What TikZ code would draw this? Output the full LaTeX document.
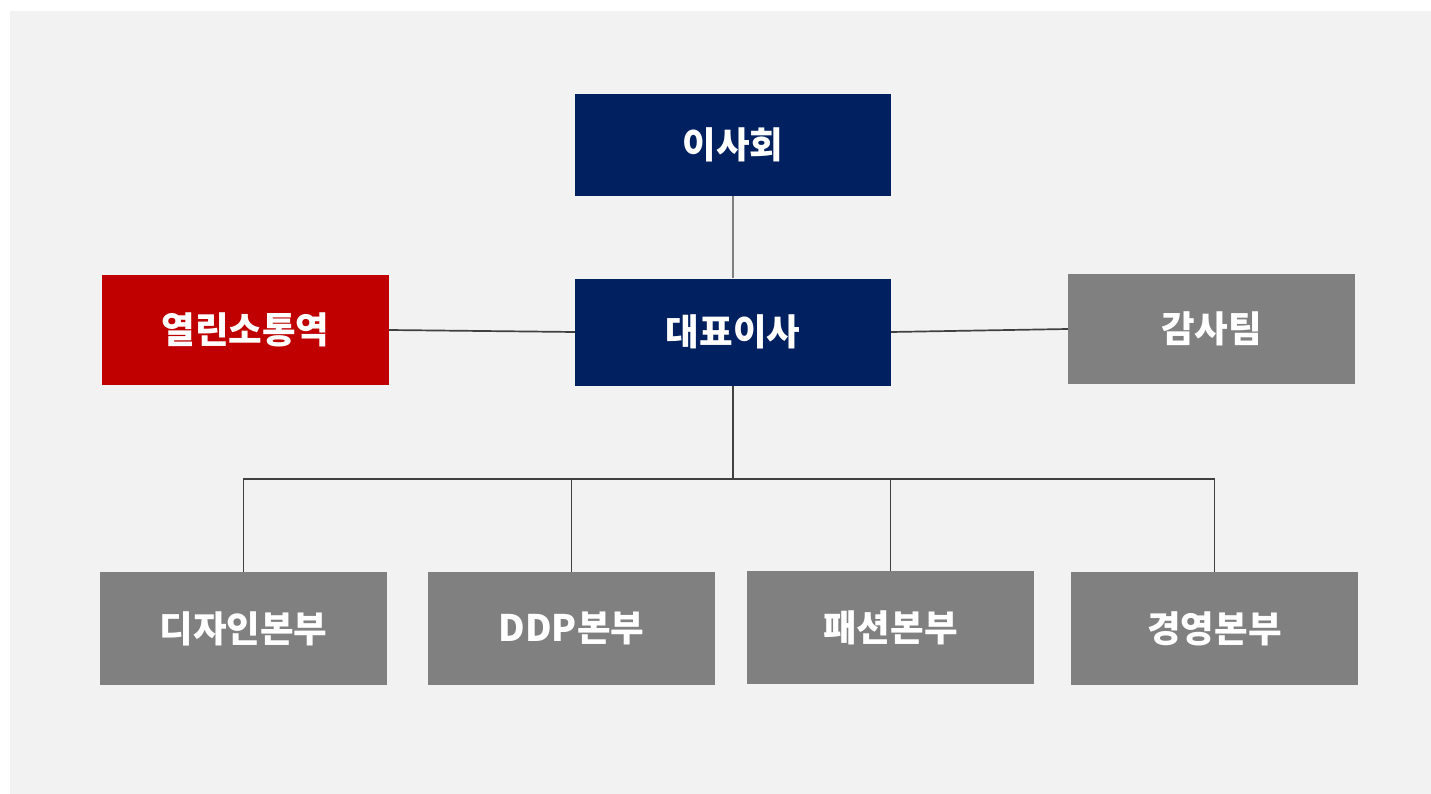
\documentclass[tikz,border=0pt]{standalone}
\usepackage{fontspec}
\newfontfamily\kr{Noto Sans CJK KR}
\definecolor{bgc}{HTML}{F2F2F2}
\definecolor{navy}{HTML}{002060}
\definecolor{redc}{HTML}{C00000}
\definecolor{grayc}{HTML}{808080}
\definecolor{linec}{HTML}{404040}
\tikzset{
  box/.style={rectangle, inner sep=0pt, text=white, font=\kr\bfseries\fontsize{36.5}{42}\selectfont, minimum width=287pt, minimum height=113pt},
  topbox/.style={box, fill=navy, minimum width=316pt},
  sidebox/.style={box, minimum height=110pt},
  conn/.style={draw=linec, line width=1.7pt},
}
\begin{document}
\begin{tikzpicture}[x=1pt,y=-1pt]
\useasboundingbox (0,0) rectangle (1431,794);
\fill[white] (0,0) rectangle (1431,794);
\fill[bgc] (10,11) rectangle (1431,794);
\node[topbox, minimum height=102pt] (board) at (733,145) {이사회};
\node[topbox, minimum height=107pt] (ceo) at (733,332) {대표이사};
\node[sidebox, fill=redc] (open) at (245.5,330) {열린소통역};
\node[sidebox, fill=grayc] (audit) at (1211.5,329) {감사팀};
\node[box, fill=grayc] (d1) at (243.5,628.5) {디자인본부};
\node[box, fill=grayc] (d2) at (571.5,628.5) {DDP본부};
\node[box, fill=grayc] (d3) at (890.5,627.5) {패션본부};
\node[box, fill=grayc] (d4) at (1214.5,628.5) {경영본부};
\coordinate (j) at (733,479);
\draw[draw=grayc, line width=1.7pt] (board.south) -- (ceo.north);
\draw[conn] (open.east) -- (ceo.west);
\draw[conn] (ceo.east) -- (audit.west);
\draw[conn] (ceo.south) -- (j);
\draw[conn] (j) -| (d1.north);
\draw[conn] (j) -| (d2.north);
\draw[conn] (j) -| (d3.north);
\draw[conn] (j) -| (d4.north);
\end{tikzpicture}
\end{document}
